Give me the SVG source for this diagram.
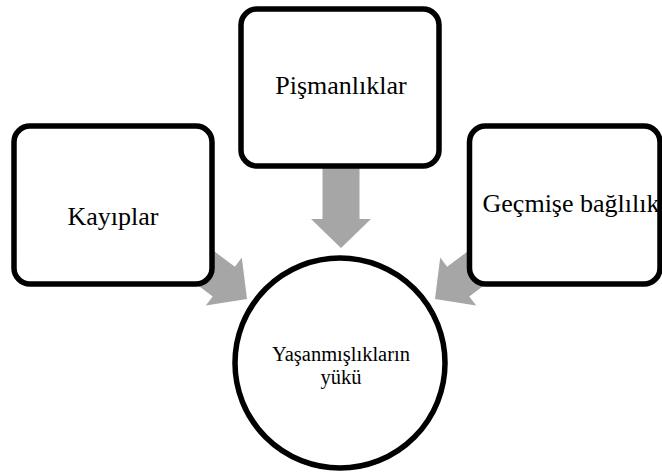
<svg xmlns="http://www.w3.org/2000/svg" width="662" height="473" viewBox="0 0 662 473">
<style>
.box{fill:#fff;stroke:#000;stroke-width:5.5}
.arrow{fill:#a6a6a6;stroke:none}
text{font-family:'Liberation Serif','Times New Roman',Tinos,'DejaVu Serif',serif;fill:#000;text-anchor:middle}
.big{font-size:26px}
.small{font-size:20.5px}
</style>
<defs>
<polygon id="arr" points="-18.5,-80 18.5,-80 18.5,-29 30,-29 0,0 -30,-29 -18.5,-29"/>
</defs>
<rect width="662" height="473" fill="#fff"/>
<g id="connectors">
<use href="#arr" class="arrow" transform="translate(341,248)"/>
<use href="#arr" class="arrow" transform="translate(247,299) rotate(-53.13)"/>
<use href="#arr" class="arrow" transform="translate(435,299) rotate(53.13)"/>
</g>
<g id="node-kayiplar">
<rect class="box" x="14" y="126" width="198" height="158" rx="16"/>
<text class="big" font-family="Liberation Serif, serif" x="113" y="225">Kayıplar</text>
</g>
<g id="node-pismanliklar">
<rect class="box" x="241" y="9" width="198" height="157" rx="16"/>
<text class="big" font-family="Liberation Serif, serif" x="341" y="94">Pişmanlıklar</text>
</g>
<g id="node-gecmise">
<rect class="box" x="469.5" y="126" width="190.5" height="158" rx="16"/>
<text class="big" font-family="Liberation Serif, serif" x="571" y="212">Geçmişe bağlılık</text>
</g>
<g id="node-center">
<circle class="box" cx="340" cy="363" r="105"/>
<text class="small" font-family="Liberation Serif, serif" x="341" y="361">Yaşanmışlıkların</text>
<text class="small" font-family="Liberation Serif, serif" x="341" y="384">yükü</text>
</g>
</svg>
